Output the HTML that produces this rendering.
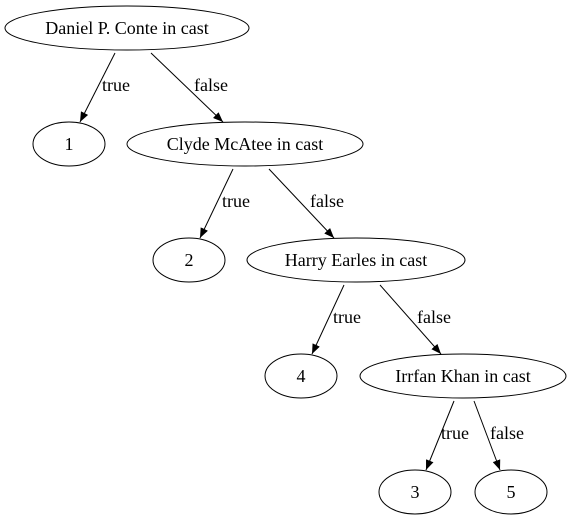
<!DOCTYPE html>
<html><head><meta charset="utf-8"><style>
html,body{margin:0;padding:0;background:#fff;}
svg{display:block;}
text{font-family:"Liberation Serif",serif;font-size:18px;fill:#000;}
</style></head><body>
<svg width="572" height="523" viewBox="0 0 572 523" xmlns="http://www.w3.org/2000/svg">
<defs><marker id="a" viewBox="0 0 10 8" refX="10" refY="4" markerWidth="10" markerHeight="8" markerUnits="userSpaceOnUse" orient="auto"><path d="M0,0 L10,4 L0,8 z" fill="#000"/></marker></defs>
<g fill="none" stroke="#000" stroke-width="1">
<ellipse cx="127" cy="28" rx="122" ry="22"/>
<ellipse cx="69" cy="144" rx="36" ry="22"/>
<ellipse cx="245" cy="144" rx="118" ry="22"/>
<ellipse cx="189" cy="260" rx="36" ry="22"/>
<ellipse cx="356" cy="260" rx="109" ry="22"/>
<ellipse cx="301" cy="376" rx="36" ry="22"/>
<ellipse cx="463" cy="376" rx="103" ry="22"/>
<ellipse cx="415" cy="492" rx="36" ry="22"/>
<ellipse cx="511" cy="492" rx="36" ry="22"/>
<g marker-end="url(#a)">
<line x1="115" y1="53" x2="80" y2="122"/>
<line x1="151" y1="53" x2="223" y2="122"/>
<line x1="233" y1="169" x2="200" y2="238"/>
<line x1="269" y1="169" x2="334" y2="238"/>
<line x1="344" y1="285" x2="312" y2="354"/>
<line x1="380" y1="285" x2="441" y2="354"/>
<line x1="454" y1="401" x2="426" y2="470"/>
<line x1="474" y1="401" x2="500" y2="470"/>
</g></g>
<g text-anchor="middle">
<text x="127" y="34">Daniel P. Conte in cast</text>
<text x="69" y="150">1</text>
<text x="245" y="150">Clyde McAtee in cast</text>
<text x="189" y="266">2</text>
<text x="356" y="266">Harry Earles in cast</text>
<text x="301" y="382">4</text>
<text x="463" y="382">Irrfan Khan in cast</text>
<text x="415" y="498">3</text>
<text x="511" y="498">5</text>
</g>
<text x="102" y="91">true</text>
<text x="194" y="91">false</text>
<text x="222" y="207">true</text>
<text x="310" y="207">false</text>
<text x="333" y="323">true</text>
<text x="417" y="323">false</text>
<text x="441" y="439">true</text>
<text x="490" y="439">false</text>
</svg>
</body></html>
